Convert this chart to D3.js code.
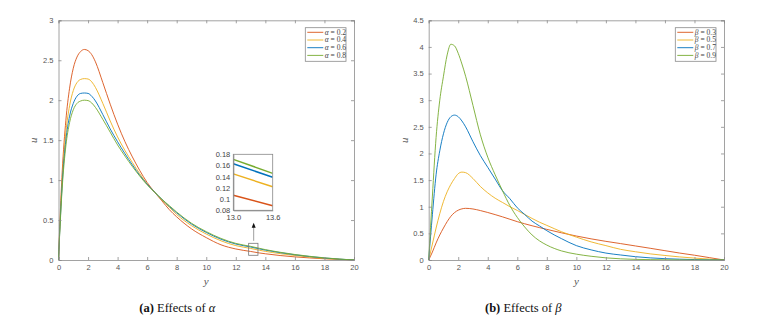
<!DOCTYPE html>
<html><head><meta charset="utf-8">
<script src="https://cdn.jsdelivr.net/npm/d3@7"></script>
<style>
body{margin:0;background:#fff;}
svg{display:block;}
.serif{font-family:"Liberation Serif","DejaVu Serif",serif;}
.sans{font-family:"Liberation Sans","DejaVu Sans",sans-serif;}
</style></head>
<body>
<svg id="chart" width="761" height="329"></svg>
<script>
// ---------- data: panel (a) effects of alpha ----------
const xA = [0,0.1,0.25,0.5,0.75,1,1.25,1.5,1.75,2,2.25,2.5,3,3.5,4,4.5,5,5.5,6,6.5,7,7.5,8,9,10,11,12,13,13.6,14,15,16,17,18,19,20];
const alphaLabels = ["0.2","0.4","0.6","0.8"];
const uAlpha02 = [0,0.5,1.1,1.75,2.15,2.4,2.54,2.61,2.635,2.62,2.57,2.48,2.22,1.95,1.7,1.48,1.29,1.12,0.97,0.85,0.74,0.63,0.54,0.39,0.28,0.19,0.138,0.107,0.088,0.078,0.056,0.039,0.026,0.015,0.007,0];
const uAlpha04 = [0,0.45,1.0,1.6,1.93,2.12,2.22,2.26,2.27,2.265,2.23,2.16,1.96,1.74,1.54,1.37,1.22,1.08,0.95,0.85,0.75,0.66,0.57,0.43,0.325,0.24,0.18,0.145,0.122,0.108,0.08,0.056,0.036,0.02,0.009,0];
const uAlpha06 = [0,0.42,0.95,1.5,1.8,1.96,2.05,2.085,2.09,2.085,2.05,1.99,1.82,1.64,1.48,1.33,1.19,1.06,0.95,0.85,0.76,0.67,0.59,0.45,0.345,0.26,0.2,0.163,0.139,0.124,0.092,0.065,0.043,0.025,0.011,0];
const uAlpha08 = [0,0.4,0.9,1.43,1.72,1.88,1.96,1.99,2.0,1.995,1.965,1.91,1.76,1.6,1.44,1.3,1.17,1.05,0.94,0.85,0.76,0.68,0.6,0.46,0.355,0.27,0.208,0.171,0.146,0.13,0.097,0.069,0.046,0.027,0.012,0];

// ---------- data: panel (b) effects of beta ----------
const xB = [0,0.25,0.5,0.75,1,1.25,1.5,1.75,2,2.25,2.5,3,3.5,4,4.5,5,5.5,6,6.5,7,7.5,8,9,10,11,12,13,14,15,16,17,18,19,20];
const betaLabels = ["0.3","0.5","0.7","0.9"];
const uBeta03 = [0,0.15,0.32,0.47,0.6,0.72,0.82,0.89,0.935,0.96,0.97,0.958,0.928,0.892,0.852,0.81,0.765,0.72,0.68,0.643,0.608,0.575,0.51,0.45,0.397,0.35,0.308,0.264,0.22,0.175,0.13,0.09,0.045,0];
const uBeta05 = [0,0.3,0.6,0.87,1.1,1.28,1.42,1.53,1.62,1.65,1.64,1.53,1.38,1.26,1.16,1.08,1.0,0.93,0.855,0.78,0.71,0.65,0.53,0.43,0.34,0.27,0.2,0.155,0.115,0.085,0.058,0.036,0.017,0];
const uBeta07 = [0,0.85,1.6,2.05,2.37,2.58,2.69,2.72,2.69,2.61,2.5,2.22,1.96,1.74,1.52,1.3,1.15,0.98,0.855,0.73,0.64,0.55,0.4,0.27,0.19,0.13,0.094,0.062,0.04,0.025,0.015,0.008,0.003,0];
const uBeta09 = [0,1.2,2.3,3.0,3.45,3.85,4.05,4.02,3.88,3.68,3.45,2.9,2.35,1.93,1.6,1.3,1.02,0.8,0.62,0.47,0.36,0.28,0.17,0.11,0.07,0.04,0.022,0.012,0.007,0.004,0.002,0.001,0,0];

const xTicks = [0,2,4,6,8,10,12,14,16,18,20];
const yTicksA = [0,0.5,1,1.5,2,2.5,3];
const yTicksB = [0,0.5,1,1.5,2,2.5,3,3.5,4,4.5];
const insetXTicks = [13.0,13.6];
const insetYTicks = [0.08,0.1,0.12,0.14,0.16,0.18];
const zoomBox = {x0:12.87, x1:13.5, y0:0.059, y1:0.209};
const arrowA = {x:13.21, yFrom:0.24, yTo:0.466};

const colors = ["#D95319","#EDB120","#0072BD","#77AC30"];

const svg = d3.select("#chart");
const axisCol = "#8a8a8a", textCol = "#555";

function panel(opts){
  const {left,right,top,bottom,xs,series,yMax,yTicks,labels,sym,legendX} = opts;
  const x = d3.scaleLinear().domain([0,20]).range([left,right]);
  const y = d3.scaleLinear().domain([0,yMax]).range([bottom,top]);
  const g = svg.append("g");
  const line = d3.line().x(d=>x(d[0])).y(d=>y(d[1])).curve(d3.curveMonotoneX);
  series.forEach((s,i)=>{
    g.append("path").datum(xs.map((v,j)=>[v,s[j]]))
      .attr("d",line).attr("fill","none").attr("stroke",colors[i]).attr("stroke-width",0.9);
  });
  const tl = 3;
  const ax = g.append("g").attr("transform",`translate(0,${bottom})`)
    .call(d3.axisBottom(x).tickValues(xTicks).tickSize(-tl).tickPadding(5).tickFormat(d3.format("d")));
  const axT = g.append("g").attr("transform",`translate(0,${top})`)
    .call(d3.axisTop(x).tickValues(xTicks).tickSize(-tl).tickFormat(""));
  const ay = g.append("g").attr("transform",`translate(${left},0)`)
    .call(d3.axisLeft(y).tickValues(yTicks).tickSize(-tl).tickPadding(5).tickFormat(d=>d3.format("")(d)));
  const ayR = g.append("g").attr("transform",`translate(${right},0)`)
    .call(d3.axisRight(y).tickValues(yTicks).tickSize(-tl).tickFormat(""));
  [ax,axT,ay,ayR].forEach(a=>{
    a.attr("font-family",null).attr("font-size",null);
    a.selectAll("path").attr("stroke",axisCol).attr("stroke-width",0.8);
    a.selectAll("line").attr("stroke",axisCol).attr("stroke-width",0.8);
    a.selectAll("text").attr("fill",textCol).attr("class","sans").style("font-size","7.5px");
  });
  g.append("text").attr("class","serif").attr("x",(left+right)/2).attr("y",bottom+25).attr("text-anchor","middle")
    .style("font-style","italic").style("font-size","11px").attr("fill",textCol).text("y");
  g.append("text").attr("class","serif").attr("x",left-21).attr("y",(top+bottom)/2).attr("text-anchor","middle")
    .attr("transform",`rotate(-90,${left-21},${(top+bottom)/2})`)
    .style("font-style","italic").style("font-size","11px").attr("fill",textCol).text("u");
  const lg = g.append("g").attr("transform",`translate(${legendX},27.7)`);
  lg.append("rect").attr("width",40.7).attr("height",33.6).attr("fill","#fff").attr("stroke",axisCol).attr("stroke-width",0.8);
  labels.forEach((lab,i)=>{
    const yy = 4.6 + i*7.7;
    lg.append("line").attr("x1",2).attr("x2",18).attr("y1",yy).attr("y2",yy).attr("stroke",colors[i]).attr("stroke-width",0.9);
    const t = lg.append("text").attr("class","serif").attr("x",19.5).attr("y",yy+2.5)
      .style("font-size","7.5px").attr("fill","#444");
    t.append("tspan").style("font-style","italic").text(sym);
    t.append("tspan").text(" = "+lab);
  });
  return {x,y,g};
}

const A = panel({left:58.5,right:354,top:20.3,bottom:260,xs:xA,series:[uAlpha02,uAlpha04,uAlpha06,uAlpha08],
  yMax:3,yTicks:yTicksA,labels:alphaLabels,sym:"α",legendX:305.3});
const B = panel({left:428.7,right:724,top:20.3,bottom:260,xs:xB,series:[uBeta03,uBeta05,uBeta07,uBeta09],
  yMax:4.5,yTicks:yTicksB,labels:betaLabels,sym:"β",legendX:675.3});

A.g.append("rect").attr("x",A.x(zoomBox.x0)).attr("y",A.y(zoomBox.y1))
  .attr("width",A.x(zoomBox.x1)-A.x(zoomBox.x0)).attr("height",A.y(zoomBox.y0)-A.y(zoomBox.y1))
  .attr("fill","none").attr("stroke","#777").attr("stroke-width",0.8);
A.g.append("line").attr("x1",A.x(arrowA.x)).attr("x2",A.x(arrowA.x)).attr("y1",A.y(arrowA.yFrom)).attr("y2",A.y(arrowA.yTo)+3)
  .attr("stroke","#888").attr("stroke-width",0.8);
A.g.append("path").attr("d",`M${A.x(arrowA.x)},${A.y(arrowA.yTo)} l-2,5 l4,0 z`).attr("fill","#111");

const ix = d3.scaleLinear().domain([13.0,13.6]).range([233.3,272.7]);
const iy = d3.scaleLinear().domain([0.08,0.18]).range([210.3,154.3]);
const ig = svg.append("g");
ig.append("rect").attr("x",233.3).attr("y",154.3).attr("width",39.4).attr("height",56).attr("fill","#fff");
svg.append("clipPath").attr("id","insetClip").append("rect").attr("x",233.3).attr("y",154.3).attr("width",39.4).attr("height",56);
const iline = d3.line().x(d=>ix(d[0])).y(d=>iy(d[1]));
[uAlpha02,uAlpha04,uAlpha06,uAlpha08].forEach((s,i)=>{
  const pts = xA.map((v,j)=>[v,s[j]]).filter(d=>d[0]>=12.9&&d[0]<=13.7);
  ig.append("path").datum(pts).attr("d",iline).attr("clip-path","url(#insetClip)")
    .attr("fill","none").attr("stroke",colors[i]).attr("stroke-width",1.5);
});
const ixa = ig.append("g").attr("transform","translate(0,210.3)").call(d3.axisBottom(ix).tickValues(insetXTicks).tickSize(0).tickPadding(4).tickFormat(d3.format(".1f")));
const iya = ig.append("g").attr("transform","translate(233.3,0)").call(d3.axisLeft(iy).tickValues(insetYTicks).tickSize(0).tickPadding(3).tickFormat(d=>d3.format("")(+d.toFixed(2))));
ig.append("rect").attr("x",233.3).attr("y",154.3).attr("width",39.4).attr("height",56).attr("fill","none").attr("stroke","#888").attr("stroke-width",0.8);
[ixa,iya].forEach(a=>{
  a.attr("font-family",null).attr("font-size",null);
  a.selectAll("path").attr("stroke","#888");
  a.selectAll("text").attr("fill","#444").attr("class","sans").style("font-size","7.5px");
});

function caption(xp, letter, sym){
  const t = svg.append("text").attr("class","serif").attr("x",xp).attr("y",312)
    .style("font-size","12.5px").attr("fill","#111");
  t.append("tspan").style("font-weight","bold").text("("+letter+")");
  t.append("tspan").text(" Effects of ");
  t.append("tspan").style("font-style","italic").text(sym);
}
caption(139.3,"a","α");
caption(485,"b","β");
</script>
</body></html>
